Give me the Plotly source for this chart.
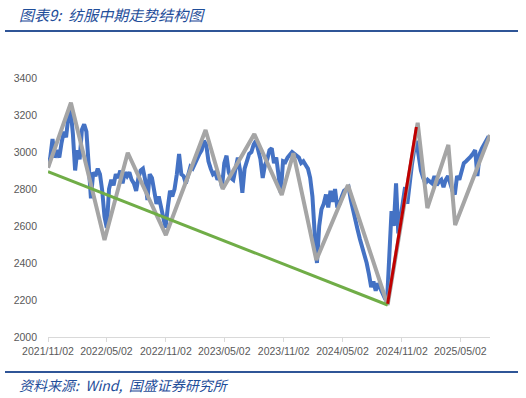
import pandas as pd
import plotly.graph_objects as go

# Blue series: weekly readings of the index (2021-11-02 .. 2025-07-29)
blue_start = "2021-11-02"
blue_values = [
    2920, 2970, 3070, 2970, 3010, 2970, 3050, 3110, 3080, 3190,
    3230, 3100, 2900, 3010, 2960, 3120, 3150, 3110, 2930, 2750,
    2890, 2870, 2910, 2880, 2790, 2650, 2590, 2800, 2850, 2820,
    2880, 2860, 2900, 2830, 2890, 2870, 2890, 2850, 2830, 2790,
    2860, 2900, 2910, 2850, 2740, 2880, 2860, 2800, 2720, 2760,
    2700, 2640, 2590, 2700, 2790, 2760, 2800, 2880, 2990, 2880,
    2870, 2830, 2880, 2920, 2910, 2940, 2960, 2990, 3010, 3060,
    3040, 2950, 2910, 2880, 2890, 2850, 2870, 2810, 2940, 2980,
    2890, 2860, 2850, 2920, 2970, 2900, 2780, 2910, 2960, 2990,
    3000, 3040, 3060, 3000, 2960, 2860, 2930, 2960, 3010, 3020,
    2940, 2970, 2850, 2780, 2950, 2945, 2970, 2990, 3000, 2990,
    2980, 2970, 2940, 2950, 2930, 2910, 2860, 2760, 2560, 2400,
    2600, 2690, 2720, 2770, 2700, 2790, 2730, 2800, 2700, 2720,
    2760, 2790, 2800, 2810, 2740, 2680, 2620, 2580, 2530, 2490,
    2440, 2400, 2340, 2270, 2300, 2250, 2290, 2260, 2240, 2210,
    2190, 2420, 2680, 2600, 2830, 2560, 2650, 2740, 2810, 2720,
    2850, 2930, 3010, 3060, 2980, 2900, 2860, 2830, 2850, 2840,
    2830, 2870, 2820, 2840, 2850, 2810, 2850, 2870, 2820, 2790,
    2770, 2870, 2850, 2900, 2940, 2950, 2960, 2975, 2990, 3010,
    2870, 2990, 3020, 3040, 3060, 3085,
]
blue_dates = pd.date_range(blue_start, periods=len(blue_values), freq="7D")

# Gray zigzag (structure)
gray_dates = ["2021-11-02", "2022-01-12", "2022-04-26", "2022-07-07", "2022-11-02",
              "2023-03-05", "2023-04-27", "2023-08-03", "2023-10-27", "2023-12-02",
              "2024-02-11", "2024-05-19", "2024-09-19", "2024-12-21", "2025-01-20",
              "2025-03-26", "2025-04-16", "2025-08-02"]
gray_values = [2915, 3266, 2524, 2996, 2551, 3119, 2800, 3097, 2768, 2993,
               2416, 2822, 2173, 3158, 2697, 3038, 2605, 3092]

# Green trend line
green_dates = ["2021-11-02", "2024-09-19"]
green_values = [2894, 2173]

# Red rebound line
red_dates = ["2024-09-19", "2024-12-17"]
red_values = [2180, 3135]

tick_dates = ["2021-11-02", "2022-05-02", "2022-11-02", "2023-05-02",
              "2023-11-02", "2024-05-02", "2024-11-02", "2025-05-02"]
tick_labels = [d.replace("-", "/") for d in tick_dates]
y_ticks = [2000, 2200, 2400, 2600, 2800, 3000, 3200, 3400]

title_text = "图表9:  纺服中期走势结构图"
source_text = "资料来源:  Wind,  国盛证券研究所"

fig = go.Figure()
fig.add_trace(go.Scatter(x=blue_dates, y=blue_values, mode="lines",
                         line=dict(color="#4472C4", width=4), hoverinfo="skip"))
fig.add_trace(go.Scatter(x=gray_dates, y=gray_values, mode="lines",
                         line=dict(color="#A5A5A5", width=4), hoverinfo="skip"))
fig.add_trace(go.Scatter(x=green_dates, y=green_values, mode="lines",
                         line=dict(color="#70AD47", width=3), hoverinfo="skip"))
fig.add_trace(go.Scatter(x=red_dates, y=red_values, mode="lines",
                         line=dict(color="#C00000", width=3), hoverinfo="skip"))

L, R, T, B = 48, 36, 78, 61
W, H = 526, 398
pw, ph = W - L - R, H - T - B

def px(x):
    return (x - L) / pw

def py(y):
    return (H - B - y) / ph

fig.update_layout(
    width=W, height=H,
    margin=dict(l=L, r=R, t=T, b=B),
    paper_bgcolor="white", plot_bgcolor="white",
    showlegend=False,
    font=dict(family="Noto Sans CJK SC, Liberation Sans, sans-serif", color="#595959"),
    xaxis=dict(type="date", range=["2021-11-02", "2025-08-02"],
               tickvals=tick_dates, ticktext=tick_labels,
               tickfont=dict(size=10.5, family="Liberation Sans, Arial", color="#595959"),
               showgrid=False, zeroline=False,
               showline=True, linecolor="#D9D9D9", linewidth=1,
               ticks="outside", tickcolor="#D9D9D9", ticklen=4, tickangle=0),
    yaxis=dict(range=[2000, 3400], tickvals=y_ticks,
               tickfont=dict(size=10.5, family="Liberation Sans, Arial", color="#595959"),
               showgrid=False, zeroline=False, showline=False, ticks="",
               ticklabelstandoff=10),
)

blue_dark = "#1F4E9A"
fig.add_shape(type="line", xref="paper", yref="paper",
              x0=px(5), x1=px(518), y0=py(31), y1=py(31),
              line=dict(color="#2F5597", width=2))
fig.add_shape(type="line", xref="paper", yref="paper",
              x0=px(5), x1=px(518), y0=py(372), y1=py(372),
              line=dict(color="#2F5597", width=2))
fig.add_annotation(text="<i>" + title_text + "</i>", xref="paper", yref="paper",
                   x=px(17), y=py(14), xanchor="left", yanchor="middle",
                   showarrow=False,
                   font=dict(size=15, color=blue_dark, family="Noto Sans CJK SC"))
fig.add_annotation(text="<i>" + source_text + "</i>", xref="paper", yref="paper",
                   x=px(17), y=py(385), xanchor="left", yanchor="middle",
                   showarrow=False,
                   font=dict(size=14, color=blue_dark, family="Noto Sans CJK SC"))

fig.write_html("out.html")
